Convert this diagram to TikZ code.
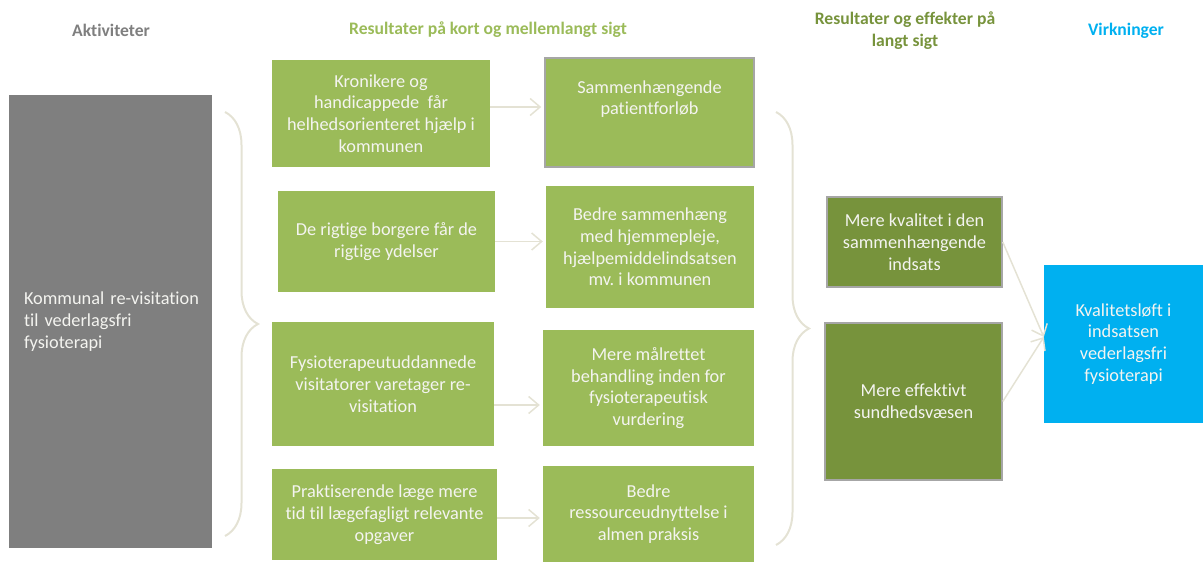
\documentclass[tikz,border=0pt]{standalone}
\usepackage{fontspec}
\setmainfont{Carlito}[Ligatures=NoCommon]
\usetikzlibrary{arrows.meta,decorations.pathreplacing}
\definecolor{lysgroen}{HTML}{9BBB59}
\definecolor{moerkgroen}{HTML}{77933C}
\definecolor{graa}{HTML}{7F7F7F}
\definecolor{blaa}{HTML}{00B0F0}
\definecolor{pilfarve}{RGB}{228,226,212}
\definecolor{tekst}{HTML}{F4F4F0}
\definecolor{kant}{HTML}{A6A6A6}
\tikzset{
  boks/.style={inner sep=0pt, text=tekst, align=center,
    font=\fontsize{18.3}{21.8}\selectfont},
  overskrift/.style={align=center, font=\fontsize{17.6}{22}\selectfont\bfseries},
  pil/.style={draw=pilfarve, line width=1.5pt,
    -{Straight Barb[length=10pt,width=17pt]}},
  klamme/.style={draw=pilfarve, line width=2pt, decorate,
    decoration={brace,amplitude=33pt}}
}
\newcommand*{\Kasser}[2]{% #1 = look, #2 = list of name/x/y/w/h/text
  \foreach \nm/\cx/\cy/\bw/\bh/\txt in {#2} {
    \node [boks, #1, minimum width=\bw pt, minimum height=\bh pt]
      (\nm) at (\cx,\cy) {\txt};
    }%
}

\begin{document}
\begin{tikzpicture}[x=1pt, y=-1pt]
  \useasboundingbox (0,0) rectangle (1203,562);
  % overskrifter
  \node [overskrift, text=graa] (hakt) at (111,30) {Aktiviteter};
  \node [overskrift, text=lysgroen] (hkort) at (488,30) {Resultater på kort og mellemlangt sigt};
  \node [overskrift, text=moerkgroen] (hlang) at (905,31) {Resultater og effekter på\\langt sigt};
  \node [overskrift, text=blaa] (hvirk) at (1126,31) {Virkninger};
  % aktivitet
  \node [boks, fill=graa, align=left, text width=173pt, inner xsep=15pt,
    minimum height=453pt] (akt) at (110.5,321.5)
    {\mbox{Kommunal re-visitation}\\til vederlagsfri\\fysioterapi};
  % kort og mellemlangt sigt
  \Kasser{fill=lysgroen}{
    k1/381/113.5/218/107/{Kronikere og\\handicappede\ \ får\\helhedsorienteret hjælp i\\kommunen},
    k2/386.5/241.5/217/101/{De rigtige borgere får de\\rigtige ydelser},
    k3/383/384/222/124/{Fysioterapeutuddannede\\visitatorer varetager re-\\visitation},
    k4/384.5/514.5/225/91/{Praktiserende læge mere\\tid til lægefagligt relevante\\opgaver},
    s2/650/247/208/122/{Bedre sammenhæng\\med hjemmepleje,\\hjælpemiddelindsatsen\\mv.\ i kommunen},
    s3/648.5/388/211/116/{Mere målrettet\\behandling inden for\\fysioterapeutisk\\vurdering},
    s4/648.5/514/211/96/{Bedre\\ressourceudnyttelse i\\almen praksis}}
  \Kasser{fill=lysgroen, draw=kant, line width=1.5pt}{
    s1/649.5/112.5/209/109/{Sammenhængende\\patientforløb\\[8pt]}}
  % langt sigt
  \Kasser{fill=moerkgroen, draw=kant, line width=1.5pt}{
    d1/914.5/242/175/90/{Mere kvalitet i den\\sammenhængende\\indsats},
    d2/913.5/401.5/177/157/{Mere effektivt\\sundhedsvæsen}}
  \Kasser{fill=blaa}{
    v/1123.5/344/159/158/{Kvalitetsløft i\\indsatsen\\vederlagsfri\\fysioterapi}}
  % klammer
  \coordinate (b1t) at (225,112);
  \coordinate (b1b) at (225,536);
  \coordinate (b2t) at (776,112);
  \coordinate (b2b) at (776,545);
  \draw [klamme] (b1t) -- (b1b);
  \draw [klamme] (b2t) -- (b2b);
  % pile
  \foreach \a/\b/\dy in {k1/s1/6.5, k2/s2/0, k3/s3/-21, k4/s4/-3.5} {
    \coordinate (\a o) at ([yshift=\dy pt]\a.east);
    \draw [pil, shorten >=3pt] (\a o) -- (\a o -| \b.west);
  }
  \coordinate (vind) at ([yshift=7pt]v.west);
  \draw [pil] (d1.east) -- (vind);
  \draw [pil] (d2.east) -- (vind);
\end{tikzpicture}
\end{document}
